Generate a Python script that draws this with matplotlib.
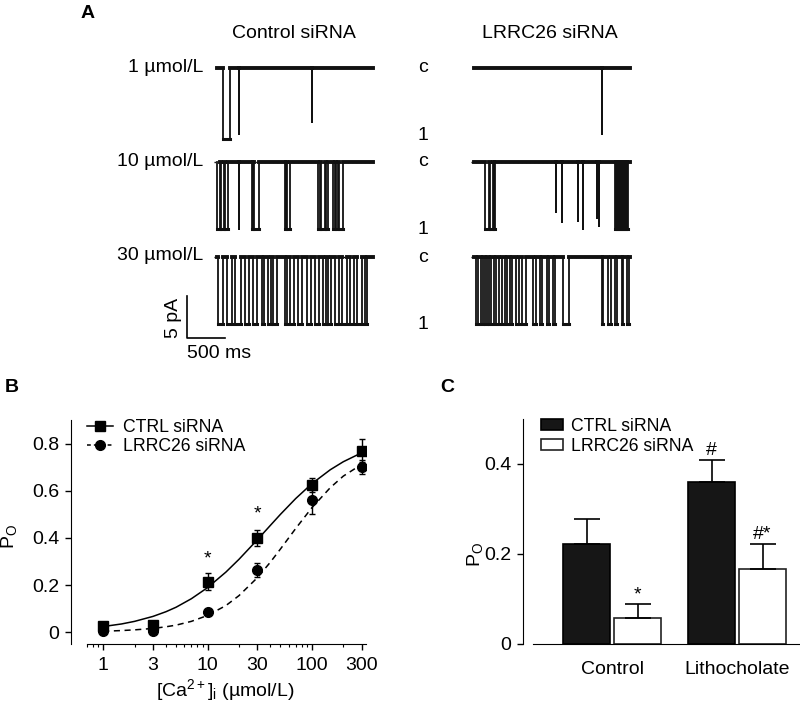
import numpy as np
import matplotlib
matplotlib.use('Agg')
import matplotlib.pyplot as plt
from matplotlib.lines import Line2D
from matplotlib.ticker import FixedLocator, LogLocator, NullFormatter, FuncFormatter

plt.rcParams['font.family'] = ['Liberation Sans', 'DejaVu Sans']
plt.rcParams['mathtext.fontset'] = 'custom'
plt.rcParams['mathtext.rm'] = 'Liberation Sans'
plt.rcParams['mathtext.it'] = 'Liberation Sans:italic'
plt.rcParams['font.size'] = 14

# ---------------------------------------------------------------- data
# panel A: single-channel openings, (start ms, duration ms, amplitude pA)
trace_len = 2050
ctrl_1uM = [(79, 92, 8.5), (289, 6, 7.9), (1250, 5, 6.4)]
ctrl_10uM = [(0, 40, 8), (53, 40, 8), (99, 46, 8), (289, 6, 8), (461, 13, 8),
             (487, 66, 8), (895, 13, 8), (921, 40, 8), (1329, 26, 8),
             (1368, 53, 8), (1434, 26, 8), (1526, 26, 8), (1566, 26, 8),
             (1605, 53, 8)]
ctrl_30uM = [(13, 63, 8), (132, 63, 8), (237, 74, 8), (368, 53, 8),
             (474, 53, 8), (592, 32, 8), (671, 42, 8), (737, 53, 8),
             (895, 32, 8), (961, 53, 8), (1066, 53, 8), (1184, 53, 8),
             (1289, 53, 8), (1395, 42, 8), (1461, 42, 8), (1553, 53, 8),
             (1645, 63, 8), (1750, 53, 8), (1842, 63, 8), (1947, 32, 8)]
lrrc_1uM = [(1684, 6, 7.9)]
lrrc_10uM = [(145, 53, 8), (211, 40, 8), (263, 13, 8), (1079, 4, 6.0),
             (1158, 4, 7.2), (1368, 4, 7.0), (1434, 4, 8), (1618, 4, 6.7),
             (1645, 4, 7.6), (1855, 10, 8), (1882, 8, 8), (1908, 10, 8),
             (1934, 8, 8), (1961, 10, 8), (1987, 8, 8), (2013, 10, 8)]
lrrc_30uM = [(26, 32, 8), (92, 21, 8), (145, 32, 8), (197, 32, 8),
             (263, 32, 8), (329, 42, 8), (408, 32, 8), (474, 32, 8),
             (553, 42, 8), (632, 53, 8), (776, 42, 8), (868, 32, 8),
             (961, 32, 8), (1039, 32, 8), (1171, 74, 8), (1684, 10, 8),
             (1763, 42, 8), (1855, 21, 8), (1947, 10, 8), (2013, 32, 8)]
conc_labels = ['1 µmol/L', '10 µmol/L', '30 µmol/L']

# panel B: Po vs [Ca2+]i
conc = [1, 3, 10, 30, 100, 300]
ctrl_po = [0.025, 0.03, 0.215, 0.40, 0.625, 0.77]
ctrl_sem = [0.01, 0.01, 0.037, 0.033, 0.03, 0.05]
lrrc_po = [0.005, 0.005, 0.085, 0.265, 0.56, 0.70]
lrrc_sem = [0.005, 0.005, 0.01, 0.03, 0.06, 0.03]
fit_conc = [1, 1.5, 2, 3, 4, 5, 7, 10, 15, 20, 30, 40, 50, 70, 100, 150, 200, 300]
ctrl_fit = [0.024, 0.035, 0.046, 0.067, 0.087, 0.106, 0.142, 0.189, 0.255,
            0.309, 0.392, 0.453, 0.50, 0.567, 0.630, 0.689, 0.723, 0.761]
lrrc_fit = [0.004, 0.007, 0.010, 0.016, 0.023, 0.030, 0.046, 0.071, 0.113,
            0.155, 0.231, 0.297, 0.353, 0.44, 0.528, 0.613, 0.662, 0.712]

# panel C: Po, control vs lithocholate
groups = ['Control', 'Lithocholate']
ctrl_bar = [0.222, 0.36]
ctrl_bar_sem = [0.056, 0.049]
lrrc_bar = [0.058, 0.167]
lrrc_bar_sem = [0.031, 0.055]

fig = plt.figure(figsize=(8, 7.07), dpi=100)

# ****************************************************************************
# *                              Panel A traces                              *
# ****************************************************************************
axA = fig.add_axes([0, 0, 1, 1])
axA.set_xlim(0, 800)
axA.set_ylim(707, 0)
axA.axis('off')

PX_PER_MS = 38 / 500
PX_PER_PA = 42 / 5
row_y = [68, 162, 257]
x_ctrl, x_lrrc = 217, 474


def trace_xy(events):
    xs, ys = [0], [0]
    for t, d, a in events:
        xs += [t, t, t + d, t + d]
        ys += [0, a, a, 0]
    xs.append(trace_len)
    ys.append(0)
    return np.array(xs, float), np.array(ys, float)


def draw_trace(events, x0, y0, dotted):
    xs, ys = trace_xy(events)
    px = x0 + xs * PX_PER_MS
    py = y0 + ys * PX_PER_PA
    if dotted:
        axA.plot([x0 - 3, x0 + trace_len * PX_PER_MS], [y0, y0], color='k',
                 lw=1, ls=(0, (1, 2)), zorder=1)
    axA.plot(px, py, color='#111111', lw=1.3, zorder=2)
    closed = np.where(ys == 0, py, np.nan)
    axA.plot(px, closed, color='#111111', lw=2.8, zorder=3)
    opened = np.where(ys >= 7.9, py, np.nan)
    axA.plot(px, opened, color='#111111', lw=2.2, zorder=3)


for i, (c_ev, l_ev) in enumerate([(ctrl_1uM, lrrc_1uM), (ctrl_10uM, lrrc_10uM),
                                   (ctrl_30uM, lrrc_30uM)]):
    draw_trace(c_ev, x_ctrl, row_y[i], i > 0)
    draw_trace(l_ev, x_lrrc, row_y[i], i > 0)
    axA.text(203, row_y[i] - 1, conc_labels[i], ha='right', va='center')
    axA.text(423, row_y[i], 'c', ha='center', va='center')
    axA.text(423, row_y[i] + 8 * PX_PER_PA, '1', ha='center', va='center')

axA.text(88, 13, 'A', fontweight='bold', ha='center', va='center')
axA.text(294, 33, 'Control siRNA', ha='center', va='center')
axA.text(550, 33, 'LRRC26 siRNA', ha='center', va='center')

# scale bar
axA.plot([187, 187, 187 + 500 * PX_PER_MS], [338 - 5 * PX_PER_PA, 338, 338],
         color='k', lw=1.2)
axA.text(174, 318, '5 pA', rotation=90, ha='center', va='center')
axA.text(219, 353, '500 ms', ha='center', va='center')

axA.text(12, 387, 'B', fontweight='bold', ha='center', va='center')
axA.text(447, 388, 'C', fontweight='bold', ha='center', va='center')

# ****************************************************************************
# *                              Panel B curves                              *
# ****************************************************************************
axB = fig.add_axes([87 / 800, 63 / 707, 279 / 800, 224 / 707])
axB.set_xscale('log')
axB.plot(fit_conc, ctrl_fit, '-', color='k', lw=1.1)
axB.plot(fit_conc, lrrc_fit, '--', color='k', lw=1.1, dashes=(4, 3))
axB.errorbar(conc, ctrl_po, yerr=ctrl_sem, fmt='s', color='k', ms=6.5,
             capsize=2.2, elinewidth=1, capthick=1)
axB.errorbar(conc, lrrc_po, yerr=lrrc_sem, fmt='o', color='k', ms=7,
             capsize=2.2, elinewidth=1, capthick=1)
axB.text(10, 0.31, '*', ha='center', va='center')
axB.text(30, 0.50, '*', ha='center', va='center')

axB.set_xlim(0.7, 330)
axB.set_ylim(-0.05, 0.9)
axB.xaxis.set_major_locator(FixedLocator(conc))
axB.xaxis.set_major_formatter(FuncFormatter(lambda v, p: f'{v:g}'))
axB.xaxis.set_minor_locator(LogLocator(base=10, subs=(2, 4, 5, 6, 7, 8, 9)))
axB.xaxis.set_minor_formatter(NullFormatter())
axB.set_yticks([0, 0.2, 0.4, 0.6, 0.8])
axB.yaxis.set_major_formatter(FuncFormatter(lambda v, p: '0' if v == 0 else f'{v:g}'))
axB.spines[['top', 'right']].set_visible(False)
axB.spines['left'].set_position(('outward', 11.5))
axB.tick_params(which='major', length=4.5, width=1, pad=4)
axB.tick_params(axis='x', which='major', pad=5)
axB.tick_params(which='minor', length=2.5, width=0.8)
axB.set_ylabel('P$_\\mathrm{O}$')
axB.yaxis.set_label_coords(-0.245, 0.48)
axB.set_xlabel('[Ca$^{2+}$]$_\\mathrm{i}$ (µmol/L)', va='center')
axB.xaxis.set_label_coords(0.495, -0.205)

handles = [Line2D([], [], color='k', ls='-', marker='s', ms=6.5, lw=1.1),
           Line2D([], [], color='k', ls='--', dashes=(2.5, 2), marker='o', ms=7, lw=1.1)]
axB.legend(handles, ['CTRL siRNA', 'LRRC26 siRNA'], loc='upper left',
           bbox_to_anchor=(0.0, 1.003), frameon=False, borderpad=0,
           borderaxespad=0, handlelength=1.5, handletextpad=0.55,
           labelspacing=0.12, numpoints=1, fontsize=12.7)

# ****************************************************************************
# *                               Panel C bars                               *
# ****************************************************************************
axC = fig.add_axes([533 / 800, 63 / 707, 267 / 800, 225 / 707])
pos = np.arange(len(groups))
w = 0.376
axC.bar(pos - 0.204, ctrl_bar, w, color='#161616', edgecolor='k', lw=1.2,
        yerr=[[0] * len(groups), ctrl_bar_sem],
        error_kw=dict(capsize=9.7, elinewidth=1.2, capthick=1.2, ecolor='k'),
        label='CTRL siRNA')
axC.bar(pos + 0.204, lrrc_bar, w, color='white', edgecolor='#222222', lw=1.2,
        yerr=[[0] * len(groups), lrrc_bar_sem],
        error_kw=dict(capsize=9.7, elinewidth=1.2, capthick=1.2, ecolor='k'),
        label='LRRC26 siRNA')
axC.text(pos[0] + 0.204, lrrc_bar[0] + lrrc_bar_sem[0] + 0.02, '*',
         ha='center', va='center')
axC.text(pos[1] + 0.204, lrrc_bar[1] + lrrc_bar_sem[1] + 0.022, '#*',
         ha='center', va='center')
axC.text(pos[1] - 0.204, ctrl_bar[1] + ctrl_bar_sem[1] + 0.022, '#',
         ha='center', va='center')

axC.set_xlim(-0.632, 1.504)
axC.set_ylim(0, 0.5)
axC.set_xticks(pos)
axC.set_xticklabels(groups)
axC.set_yticks([0, 0.2, 0.4])
axC.yaxis.set_major_formatter(FuncFormatter(lambda v, p: '0' if v == 0 else f'{v:g}'))
axC.spines[['top', 'right']].set_visible(False)
axC.spines['left'].set_position(('outward', 7.2))
axC.tick_params(axis='x', length=0, pad=12)
axC.tick_params(axis='y', length=4.5, width=1, pad=4)
axC.set_ylabel('P$_\\mathrm{O}$')
axC.yaxis.set_label_coords(-0.18, 0.4)
axC.legend(loc='upper left', bbox_to_anchor=(0.03, 1.005), frameon=False,
           borderpad=0, borderaxespad=0, handlelength=1.25, handleheight=0.55,
           handletextpad=0.45, labelspacing=0.15, fontsize=12.7)

fig.savefig('out.png', dpi=100)
